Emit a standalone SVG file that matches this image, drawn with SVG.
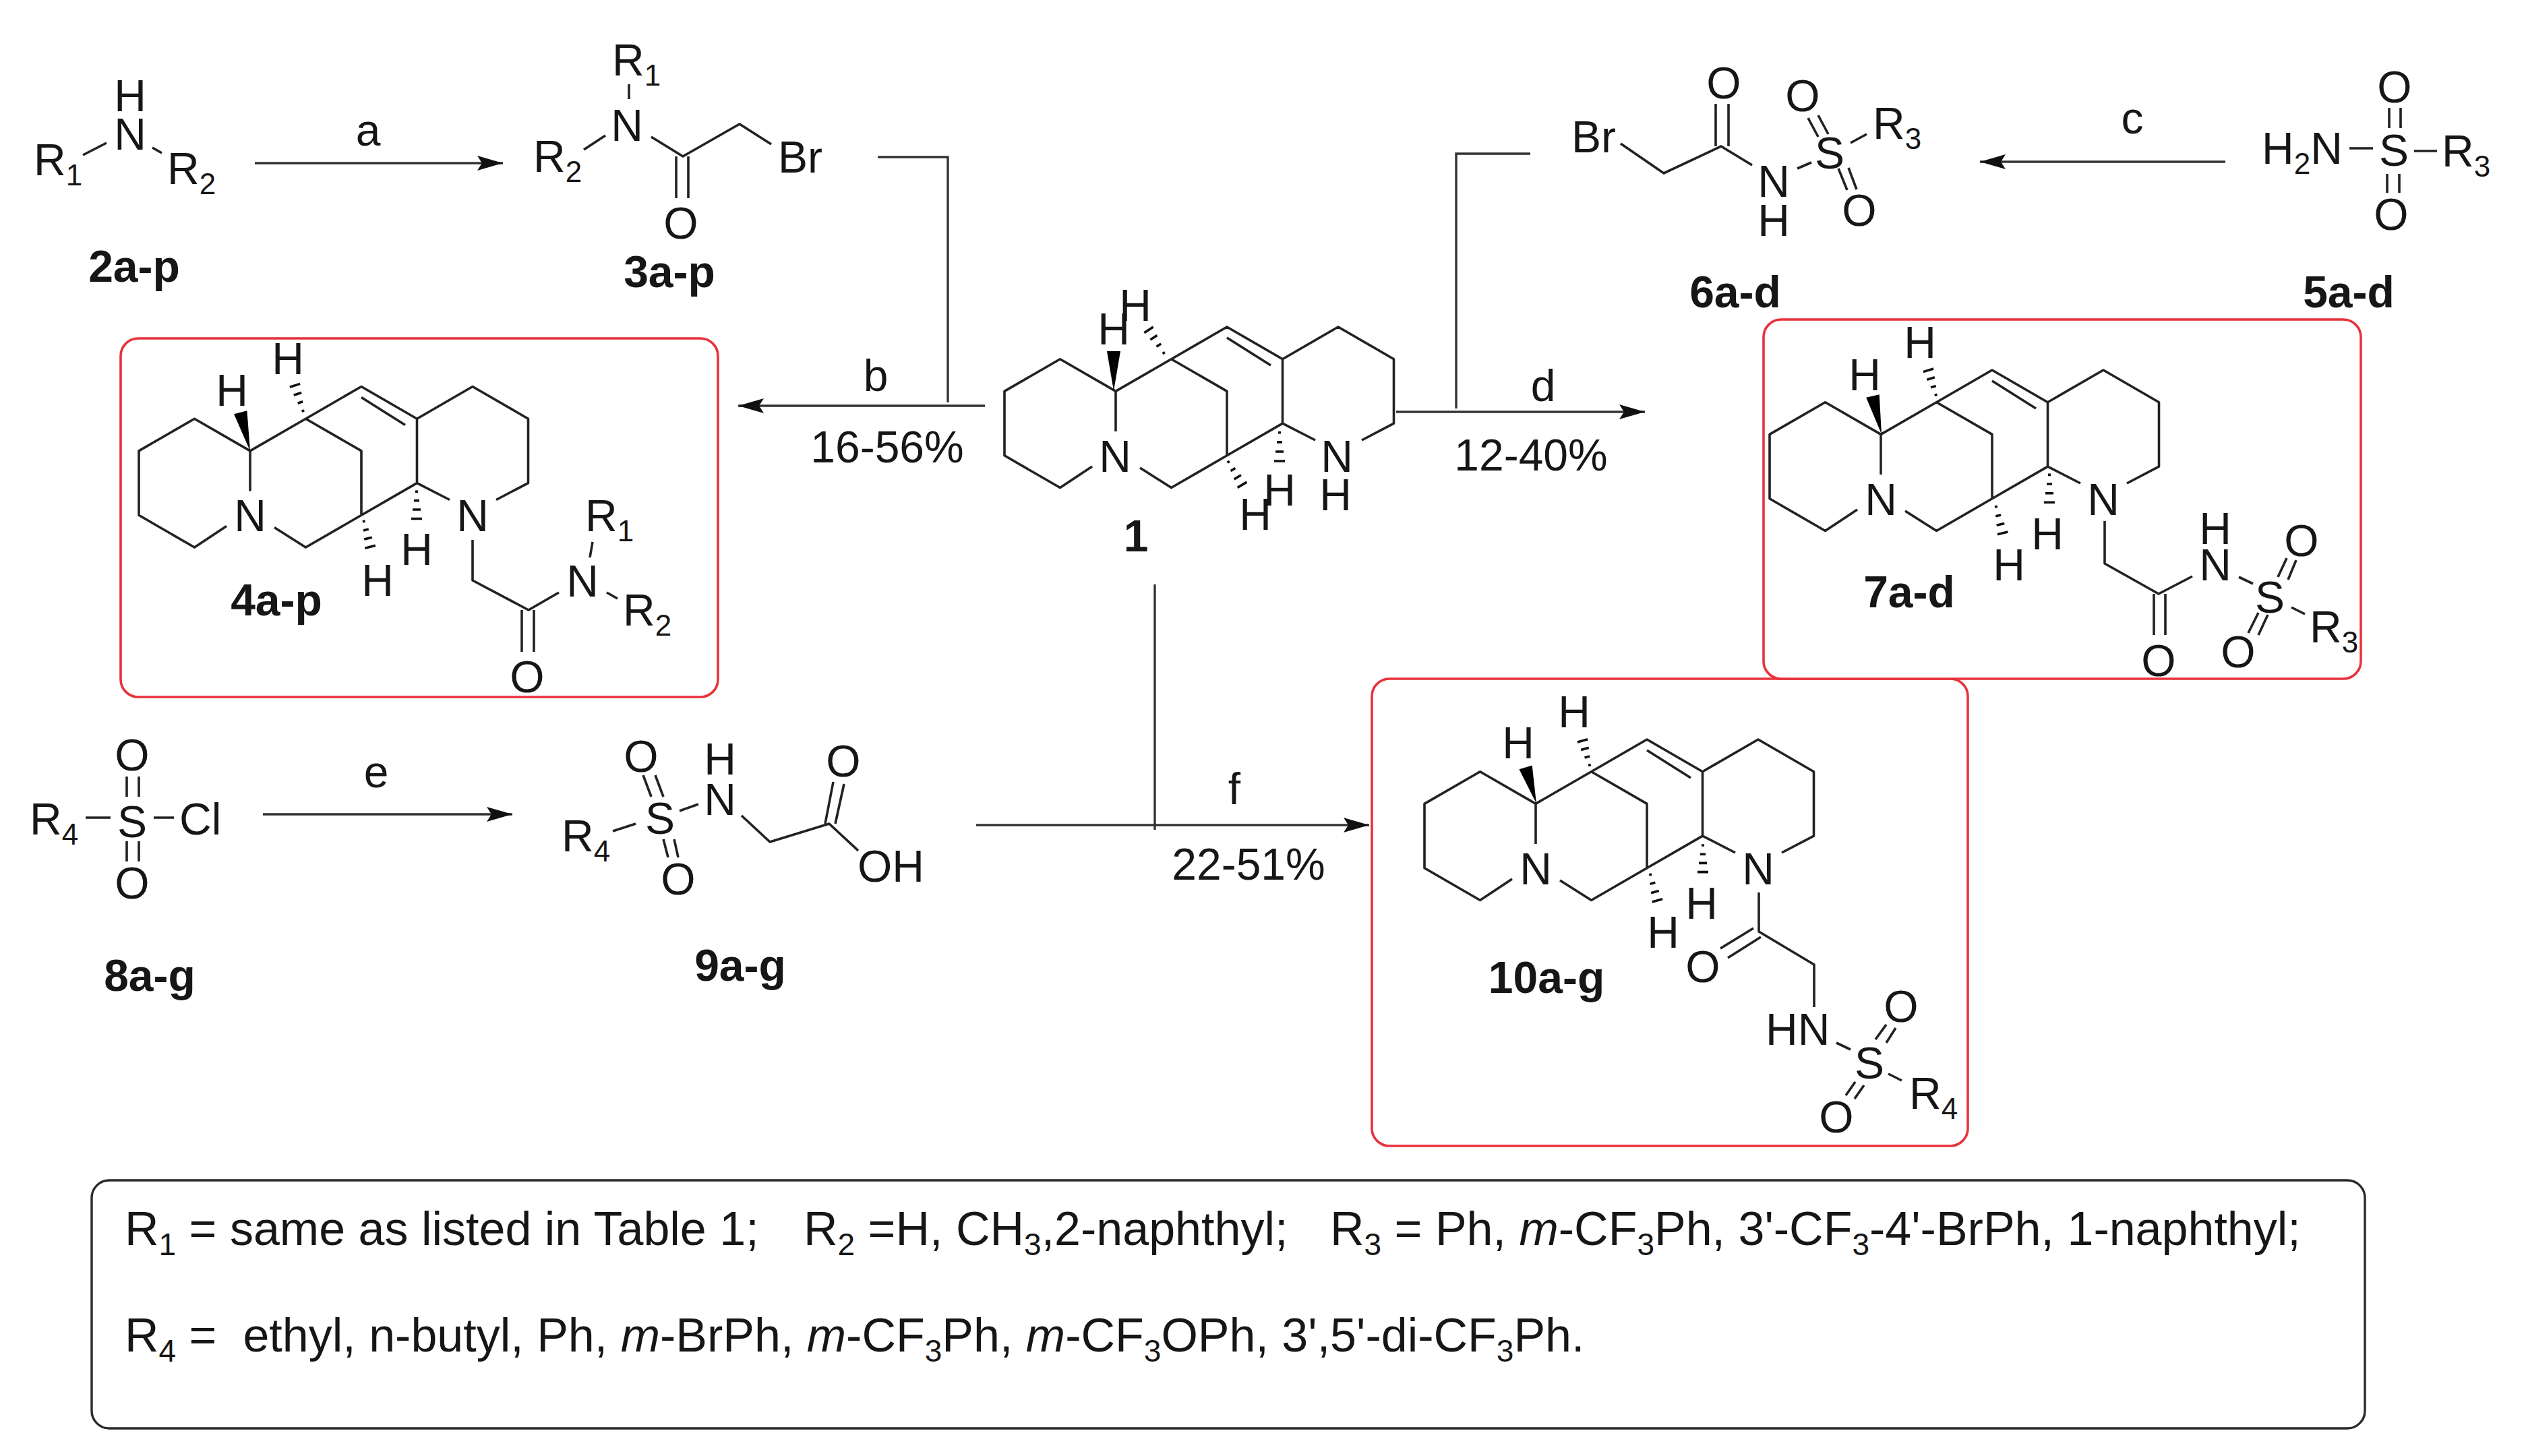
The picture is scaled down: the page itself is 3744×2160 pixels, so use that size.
<svg xmlns="http://www.w3.org/2000/svg" xmlns:xlink="http://www.w3.org/1999/xlink" width="3744" height="2160" viewBox="0 0 3744 2160">
<style>
text{font-family:"Liberation Sans",Arial,sans-serif;font-size:66px;fill:#161616}
.a{text-anchor:middle}
.n{text-anchor:middle;font-weight:bold}
.s{font-size:44px}
.lg{font-size:70px}
.lg .s{font-size:46px}
.b{fill:none;stroke:#222;stroke-width:3.6;stroke-linejoin:round}
.c{fill:none;stroke:#333;stroke-width:3.4}
.h{fill:none;stroke:#111;stroke-width:3.6;vector-effect:non-scaling-stroke}
.w{fill:#000}
.r{fill:#fff;stroke:#e8323c;stroke-width:3.6}
.f{fill:#fff;stroke:#2a2a2a;stroke-width:3.4}
</style>
<defs>
<path id="sk" class="b" d="M165,155V95.4L82.5,47.7L0,95.4V190.8L82.5,238.5L130,207M165,95.4L247.5,47.7L330,0L412.5,47.7L495,0L577.5,47.7V143.1L530,168M412.5,47.7V143.1L461,168M412.5,143.1L330,190.8L247.5,238.5L201,209M247.5,47.7L330,95.4V190.8M330,16L395,57"/>
<path id="ha" class="h" d="M-2,20H2M-4,42H4M-6,64H6M-8,86H8"/>
<polygon id="we" class="w" points="0,0 -10,100 10,100"/>
<marker id="ar" markerUnits="userSpaceOnUse" markerWidth="40" markerHeight="24" refX="38" refY="12" orient="auto"><path d="M0,1L38,12L0,23L7,12Z" fill="#111"/></marker>
</defs>
<rect width="3744" height="2160" fill="#fff"/>

<g id="box-4"><rect class="r" x="179" y="502" width="886" height="532" rx="26"/></g>
<g id="box-10"><rect class="r" x="2035" y="1007" width="884" height="693" rx="26"/></g>
<g id="box-7"><rect class="r" x="2616" y="474" width="886" height="533" rx="26"/></g>

<g id="connectors">
<path class="c" d="M378,242H746" marker-end="url(#ar)"/>
<path class="c" d="M1302,233H1406V597"/>
<path class="c" d="M1461,602H1095" marker-end="url(#ar)"/>
<path class="c" d="M3301,240H2937" marker-end="url(#ar)"/>
<path class="c" d="M2270,228H2160V606"/>
<path class="c" d="M2071,611H2440" marker-end="url(#ar)"/>
<path class="c" d="M390,1208H760" marker-end="url(#ar)"/>
<path class="c" d="M1713,867V1231"/>
<path class="c" d="M1448,1224H2031" marker-end="url(#ar)"/>
<text class="a" x="546" y="216">a</text>
<text class="a" x="1299" y="580">b</text>
<text class="a" x="1316" y="686">16-56%</text>
<text class="a" x="3163" y="198">c</text>
<text class="a" x="2289" y="595">d</text>
<text class="a" x="2271" y="698">12-40%</text>
<text class="a" x="558" y="1168">e</text>
<text class="a" x="1831" y="1193">f</text>
<text class="a" x="1852" y="1305">22-51%</text>
</g>

<g id="node-2">
<path class="b" d="M123,230L158,212M226,219L240,227"/>
<text x="50" y="260">R<tspan class="s" dy="15">1</tspan></text>
<text class="a" x="193" y="165">H</text>
<text class="a" x="193" y="222">N</text>
<text x="248" y="273">R<tspan class="s" dy="15">2</tspan></text>
<text class="n" x="199" y="418">2a-p</text>
</g>

<g id="node-3">
<path class="b" d="M933,125V147M866,222L898,201M966,203L1013,232L1097,184L1144,214M1003,232V294M1021,232V294"/>
<text x="908" y="112">R<tspan class="s" dy="15">1</tspan></text>
<text class="a" x="930" y="209">N</text>
<text x="791" y="255">R<tspan class="s" dy="15">2</tspan></text>
<text x="1154" y="256">Br</text>
<text class="a" x="1010" y="354">O</text>
<text class="n" x="993" y="426">3a-p</text>
</g>

<g id="node-4">
<use href="#sk" xlink:href="#sk" transform="translate(206,573.5)"/>
<use href="#we" xlink:href="#we" transform="translate(371,669) rotate(166) scale(1,.59)"/>
<use href="#ha" xlink:href="#ha" transform="translate(453,621) rotate(162.5) scale(1,.6)"/>
<use href="#ha" xlink:href="#ha" transform="translate(618,717) scale(1,.61)"/>
<use href="#ha" xlink:href="#ha" transform="translate(537,762) rotate(-13.8) scale(1,.59)"/>
<path class="b" d="M701,801V861L784,905L829,879M879,804L875,827M900,879L916,888M774,905V967M792,905V967"/>
<text class="a" x="344" y="602">H</text><text class="a" x="427" y="555">H</text>
<text class="a" x="618" y="838">H</text><text class="a" x="560" y="884">H</text>
<text class="a" x="371" y="788">N</text><text class="a" x="701" y="788">N</text>
<text class="a" x="864" y="885">N</text>
<text x="868" y="788">R<tspan class="s" dy="15">1</tspan></text>
<text x="924" y="928">R<tspan class="s" dy="15">2</tspan></text>
<text class="a" x="782" y="1027">O</text>
<text class="n" x="410" y="913">4a-p</text>
</g>

<g id="node-1">
<use href="#sk" xlink:href="#sk" transform="translate(1490,485)"/>
<use href="#we" xlink:href="#we" transform="translate(1652,580) rotate(180) scale(1,.59)"/>
<use href="#ha" xlink:href="#ha" transform="translate(1733,534) rotate(147) scale(1,.62)"/>
<use href="#ha" xlink:href="#ha" transform="translate(1898,629) scale(1,.64)"/>
<use href="#ha" xlink:href="#ha" transform="translate(1816,675) rotate(-31) scale(1,.6)"/>
<text class="a" x="1652" y="511">H</text><text class="a" x="1684" y="476">H</text>
<text class="a" x="1898" y="750">H</text><text class="a" x="1862" y="786">H</text>
<text class="a" x="1654" y="700">N</text><text class="a" x="1983" y="700">N</text>
<text class="a" x="1981" y="757">H</text>
<text class="n" x="1685" y="818">1</text>
</g>

<g id="node-5">
<path class="b" d="M3485,220H3520M3581,224H3615M3544,160V190M3561,160V190M3541,258V286M3559,258V286"/>
<text x="3355" y="243">H<tspan class="s" dy="15">2</tspan><tspan dy="-15">N</tspan></text>
<text class="a" x="3551" y="246">S</text>
<text x="3622" y="247">R<tspan class="s" dy="15">3</tspan></text>
<text class="a" x="3552" y="152">O</text>
<text class="a" x="3547" y="341">O</text>
<text class="n" x="3484" y="456">5a-d</text>
</g>

<g id="node-6">
<path class="b" d="M2404,213L2468,257L2553,217L2599,245M2545,154V217M2564,154V217M2666,250L2687,241M2682,175L2697,203M2697,171L2712,199M2727,250L2740,282M2742,249L2754,281M2745,212L2769,199"/>
<text x="2331" y="226">Br</text>
<text class="a" x="2557" y="146">O</text>
<text class="a" x="2631" y="292">N</text>
<text class="a" x="2631" y="350">H</text>
<text class="a" x="2714" y="250">S</text>
<text class="a" x="2674" y="165">O</text>
<text class="a" x="2758" y="335">O</text>
<text x="2778" y="206">R<tspan class="s" dy="15">3</tspan></text>
<text class="n" x="2574" y="456">6a-d</text>
</g>

<g id="node-7">
<use href="#sk" xlink:href="#sk" transform="translate(2625,549)"/>
<use href="#we" xlink:href="#we" transform="translate(2791,644) rotate(167) scale(1,.58)"/>
<use href="#ha" xlink:href="#ha" transform="translate(2875,597) rotate(163) scale(1,.58)"/>
<use href="#ha" xlink:href="#ha" transform="translate(3040,692) scale(1,.62)"/>
<use href="#ha" xlink:href="#ha" transform="translate(2958,740) rotate(-14) scale(1,.61)"/>
<path class="b" d="M3122,773V836L3202,881L3252,855M3321,856L3342,866M3379,856L3392,828M3394,860L3406,831M3335,939L3350,909M3350,942L3364,912M3399,901L3419,911M3195,881V942M3212,881V942"/>
<text class="a" x="2766" y="579">H</text><text class="a" x="2848" y="531">H</text>
<text class="a" x="3037" y="815">H</text><text class="a" x="2980" y="861">H</text>
<text class="a" x="2790" y="764">N</text><text class="a" x="3120" y="764">N</text>
<text class="a" x="3286" y="861">N</text><text class="a" x="3286" y="807">H</text>
<text class="a" x="3367" y="909">S</text>
<text class="a" x="3414" y="825">O</text><text class="a" x="3320" y="990">O</text>
<text x="3426" y="953">R<tspan class="s" dy="15">3</tspan></text>
<text class="a" x="3202" y="1003">O</text>
<text class="n" x="2832" y="901">7a-d</text>
</g>

<g id="node-8">
<path class="b" d="M127,1213H164M228,1213H258M188,1152V1182M206,1152V1182M188,1248V1278M206,1248V1278"/>
<text x="44" y="1238">R<tspan class="s" dy="15">4</tspan></text>
<text class="a" x="196" y="1242">S</text>
<text x="266" y="1238">Cl</text>
<text class="a" x="196" y="1143">O</text>
<text class="a" x="196" y="1333">O</text>
<text class="n" x="222" y="1470">8a-g</text>
</g>

<g id="node-9">
<path class="b" d="M954,1150L966,1182M972,1150L984,1182M984,1245L991,1272M1000,1245L1006,1272M909,1233L943,1222M1008,1203L1036,1193M1100,1210L1142,1249L1230,1222L1273,1262M1224,1222L1236,1160M1239,1222L1252,1163"/>
<text x="833" y="1263">R<tspan class="s" dy="15">4</tspan></text>
<text class="a" x="979" y="1237">S</text>
<text class="a" x="951" y="1145">O</text>
<text class="a" x="1006" y="1327">O</text>
<text class="a" x="1068" y="1209">N</text>
<text class="a" x="1068" y="1149">H</text>
<text class="a" x="1251" y="1152">O</text>
<text x="1272" y="1308">OH</text>
<text class="n" x="1098" y="1455">9a-g</text>
</g>

<g id="node-10">
<use href="#sk" xlink:href="#sk" transform="translate(2113,1097)"/>
<use href="#we" xlink:href="#we" transform="translate(2279,1192) rotate(163.5) scale(1,.56)"/>
<use href="#ha" xlink:href="#ha" transform="translate(2361,1146) rotate(164) scale(1,.57)"/>
<use href="#ha" xlink:href="#ha" transform="translate(2526,1242) scale(1,.6)"/>
<use href="#ha" xlink:href="#ha" transform="translate(2445,1286) rotate(-15) scale(1,.6)"/>
<path class="b" d="M2609,1324V1382L2691,1431V1494M2601,1377L2552,1407M2612,1390L2563,1421M2724,1547L2745,1557M2782,1542L2798,1520M2798,1547L2812,1525M2738,1625L2752,1605M2751,1630L2765,1610M2801,1593L2821,1603"/>
<text class="a" x="2252" y="1125">H</text><text class="a" x="2335" y="1079">H</text>
<text class="a" x="2524" y="1363">H</text><text class="a" x="2467" y="1406">H</text>
<text class="a" x="2278" y="1312">N</text><text class="a" x="2608" y="1312">N</text>
<text class="a" x="2526" y="1457">O</text>
<text x="2619" y="1550">HN</text>
<text class="a" x="2773" y="1600">S</text>
<text class="a" x="2820" y="1516">O</text><text class="a" x="2724" y="1680">O</text>
<text x="2832" y="1645">R<tspan class="s" dy="15">4</tspan></text>
<text class="n" x="2294" y="1473">10a-g</text>
</g>

<g id="legend">
<rect class="f" x="136" y="1751" width="3372" height="368" rx="26"/>
<text class="lg" x="185" y="1847">R<tspan class="s" dy="15">1</tspan><tspan dy="-15"> = same as listed in Table 1;</tspan></text>
<text class="lg" x="1192" y="1847">R<tspan class="s" dy="15">2</tspan><tspan dy="-15"> =H, CH</tspan><tspan class="s" dy="15">3</tspan><tspan dy="-15">,2-naphthyl;</tspan></text>
<text class="lg" x="1973" y="1847">R<tspan class="s" dy="15">3</tspan><tspan dy="-15"> = Ph, </tspan><tspan font-style="italic">m</tspan><tspan>-CF</tspan><tspan class="s" dy="15">3</tspan><tspan dy="-15">Ph, 3'-CF</tspan><tspan class="s" dy="15">3</tspan><tspan dy="-15">-4'-BrPh, 1-naphthyl;</tspan></text>
<text class="lg" x="185" y="2005" xml:space="preserve">R<tspan class="s" dy="15">4</tspan><tspan dy="-15"> =  ethyl, n-butyl, Ph, </tspan><tspan font-style="italic">m</tspan><tspan>-BrPh, </tspan><tspan font-style="italic">m</tspan><tspan>-CF</tspan><tspan class="s" dy="15">3</tspan><tspan dy="-15">Ph, </tspan><tspan font-style="italic">m</tspan><tspan>-CF</tspan><tspan class="s" dy="15">3</tspan><tspan dy="-15">OPh, 3',5'-di-CF</tspan><tspan class="s" dy="15">3</tspan><tspan dy="-15">Ph.</tspan></text>
</g>
</svg>
